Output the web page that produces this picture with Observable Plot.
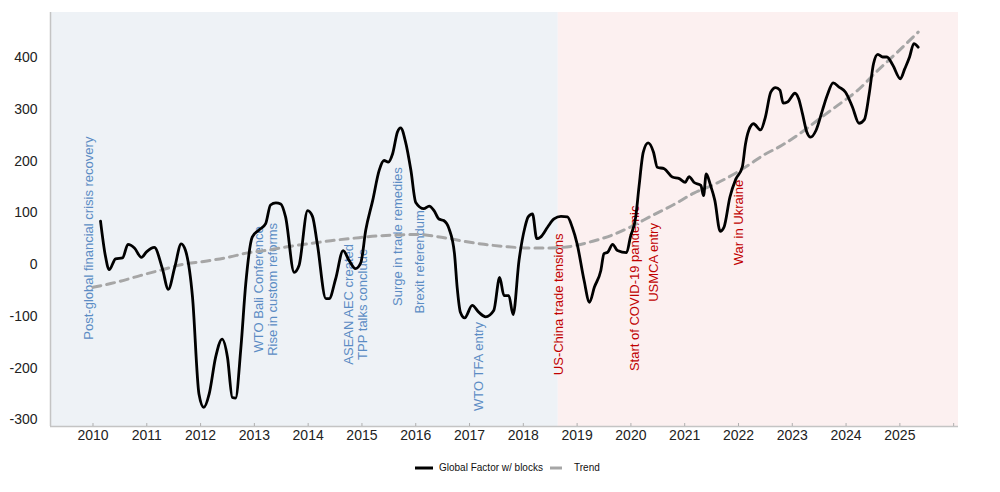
<!DOCTYPE html>
<html><head><meta charset="utf-8">
<script src="https://cdn.jsdelivr.net/npm/d3@7"></script>
<script src="https://cdn.jsdelivr.net/npm/@observablehq/plot@0.6"></script>
<style>
body{margin:0;background:#fff;font-family:"Liberation Sans",Arial,sans-serif;}
#wrap{position:relative;width:1000px;height:492px;overflow:hidden;}
#legend{position:absolute;left:0;top:448px;width:1000px;height:44px;font-size:10px;color:#111;}
#legend .it{position:absolute;top:14px;height:12px;line-height:12px;white-space:nowrap;}
#legend svg{position:absolute;top:0;}
</style></head><body>
<div id="wrap"><div id="chart"></div>
<div id="legend">
  <div class="it" style="left:415px"><svg width="20" height="12"><line x1="0" x2="18" y1="6" y2="6" stroke="#000" stroke-width="3"/></svg><span style="position:absolute;left:24px">Global Factor w/ blocks</span></div>
  <div class="it" style="left:550px"><svg width="14" height="12"><line x1="0" x2="12" y1="6" y2="6" stroke="#a6a6a6" stroke-width="3"/></svg><span style="position:absolute;left:24px">Trend</span></div>
</div></div>
<script>
const factorYears = [2010.14,2010.23,2010.30,2010.42,2010.55,2010.65,2010.77,2010.90,2011.00,2011.14,2011.29,2011.40,2011.52,2011.64,2011.72,2011.85,2011.97,2012.06,2012.16,2012.28,2012.40,2012.50,2012.59,2012.65,2012.75,2012.84,2012.96,2013.09,2013.21,2013.30,2013.40,2013.49,2013.58,2013.74,2013.83,2013.99,2014.08,2014.17,2014.33,2014.39,2014.51,2014.65,2014.76,2014.88,2014.98,2015.07,2015.20,2015.32,2015.41,2015.49,2015.57,2015.66,2015.72,2015.81,2015.91,2016.00,2016.15,2016.25,2016.34,2016.43,2016.52,2016.62,2016.72,2016.77,2016.83,2016.91,2017.05,2017.17,2017.30,2017.45,2017.56,2017.64,2017.73,2017.81,2017.92,2018.03,2018.09,2018.17,2018.25,2018.32,2018.45,2018.57,2018.70,2018.82,2018.91,2019.00,2019.13,2019.23,2019.32,2019.44,2019.50,2019.57,2019.66,2019.75,2019.92,2019.99,2020.09,2020.15,2020.23,2020.32,2020.42,2020.49,2020.62,2020.77,2020.90,2021.01,2021.08,2021.17,2021.30,2021.35,2021.40,2021.48,2021.56,2021.66,2021.73,2021.84,2021.95,2022.07,2022.13,2022.19,2022.28,2022.41,2022.50,2022.60,2022.69,2022.77,2022.83,2022.91,2023.05,2023.12,2023.19,2023.27,2023.34,2023.44,2023.56,2023.65,2023.76,2023.87,2023.99,2024.12,2024.24,2024.34,2024.43,2024.51,2024.59,2024.68,2024.76,2024.87,2025.01,2025.09,2025.18,2025.26,2025.34];
const factorValues = [84,17,-10,11,13,39,32,14,25,33,-8,-48,-5,40,27,-63,-250,-276,-250,-179,-144,-179,-257,-258,-160,-37,53,67,79,115,119,117,92,-15,-2,104,93,40,-66,-66,-28,27,8,-8,4,66,124,182,201,198,214,256,264,237,182,120,108,113,104,88,85,69,21,-44,-92,-103,-79,-92,-101,-89,-25,-60,-60,-97,8,72,92,98,50,53,72,88,93,92,72,40,-31,-73,-44,-12,21,24,39,27,23,53,92,150,217,235,217,188,185,169,166,159,170,159,153,133,175,153,124,64,72,130,165,188,233,259,272,260,285,333,342,337,312,314,331,320,291,256,246,259,298,327,351,343,333,304,273,280,330,388,406,401,401,385,359,378,401,427,420];
const trendYears = [2010.0,2010.48,2010.89,2011.29,2011.66,2012.06,2012.47,2012.90,2013.27,2013.65,2014.0,2014.42,2014.86,2015.26,2015.66,2016.03,2016.40,2016.83,2017.27,2017.64,2018.08,2018.51,2018.88,2019.29,2019.63,2020.0,2020.40,2020.80,2021.17,2021.55,2021.92,2022.20,2022.46,2022.80,2023.14,2023.51,2023.85,2024.22,2024.56,2024.93,2025.34];
const trendValues = [-44,-33,-21,-10,0,6,13,23,28,35,40,46,51,55,57,58,54,46,39,35,32,32,35,45,56,73,95,116,138,155,175,193,211,230,253,282,308,337,372,408,449];
const annotationLabels = ["Post-global financial crisis recovery","WTO Bali Conference\nRise in custom reforms","ASEAN AEC created\nTPP talks conclude","Surge in trade remedies","Brexit referendum","WTO TFA entry","US-China trade tensions","Start of COVID-19 pandemic","USMCA entry","War in Ukraine"];
const annotationYears = [2009.92,2013.21,2014.88,2015.66,2016.07,2017.17,2018.66,2020.07,2020.42,2022.0];
const annotationValues = [51,-48,-77,54,5,-197,-77,-46,4,81];
const annotationEra = ["pre","pre","pre","pre","pre","pre","post","post","post","post"];
const eraNames = ["pre","post"];
const eraStarts = [2009.21,2018.65];
const eraEnds = [2018.65,2026.09];
const yearTicks = d3.range(2010, 2027);
const yTicks = [-300,-200,-100,0,100,200,300,400];

const factor = factorYears.map((x,i)=>({x, y: factorValues[i]}));
const trend = trendYears.map((x,i)=>({x, y: trendValues[i]}));
const annos = annotationLabels.map((t,i)=>({t, x: annotationYears[i], y: annotationValues[i], era: annotationEra[i]}));
const eras = eraNames.map((e,i)=>({e, x1: eraStarts[i], x2: eraEnds[i]}));
const xMin = eraStarts[0], xMax = eraEnds[1], yMin = -313, yMax = 487;
const eraFill = {pre:"#eef2f6", post:"#fcf0f0"};
const eraText = {pre:"#5b8cc4", post:"#c00000"};

const chart = Plot.plot({
  width: 1000, height: 448,
  marginLeft: 50, marginRight: 42, marginTop: 12, marginBottom: 22,
  x: {domain: [xMin, xMax], label: null},
  y: {domain: [yMin, yMax], label: null},
  style: {fontFamily: '"Liberation Sans", Arial, sans-serif', fontSize: "14px", color: "#222", background: "#fff"},
  marks: [
    Plot.rect(eras, {x1: "x1", x2: "x2", y1: yMin, y2: yMax, fill: d => eraFill[d.e]}),
    Plot.ruleX([xMin], {stroke: "#c4c4c4", strokeWidth: 1.5}),
    Plot.ruleY([yMin], {stroke: "#c4c4c4", strokeWidth: 1.5}),
    Plot.axisX({ticks: yearTicks, tickFormat: d => d === 2026 ? "" : String(d), tickSize: -3, tickPadding: 7, stroke: "#b0b0b0", fill: "#222", fontSize: 14}),
    Plot.axisY({ticks: yTicks, tickFormat: d => String(d), tickSize: 0, tickPadding: 13, fill: "#222", fontSize: 14}),
    Plot.text(annos, {x: "x", y: "y", text: "t", rotate: -90, fill: d => eraText[d.era], fontSize: 13, textAnchor: "middle", lineAnchor: "middle", lineHeight: 1.1}),
    Plot.line(trend, {x: "x", y: "y", stroke: "#a6a6a6", strokeWidth: 3, strokeDasharray: "8,6", curve: "monotone-x"}),
    Plot.line(factor, {x: "x", y: "y", stroke: "#000", strokeWidth: 2.8, curve: "monotone-x"})
  ]
});
document.getElementById("chart").appendChild(chart);
</script>
</body></html>
